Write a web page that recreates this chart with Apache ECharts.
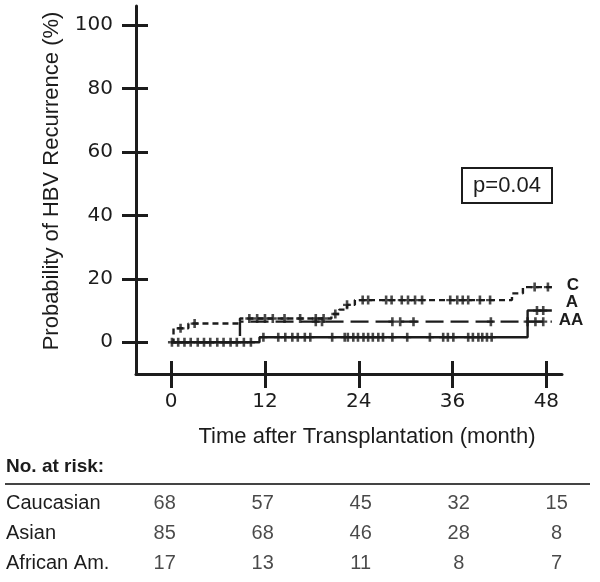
<!DOCTYPE html>
<html>
<head>
<meta charset="utf-8">
<script src="https://cdn.jsdelivr.net/npm/echarts@6/dist/echarts.min.js"></script>
<style>
  html, body { margin: 0; padding: 0; background: #fff; }
  #chart { width: 600px; height: 582px; }
</style>
</head>
<body>
<div id="chart"></div>
<script>
// step curves: [time (month), cumulative recurrence (%)]
const stepsC = [[0, 0], [0.3, 4.4], [2.2, 5.9], [8.8, 7.5], [20.5, 8.9], [21.5, 10.3], [22.5, 11.8], [23.5, 13.3], [43.6, 15.4], [45, 17.4], [48.7, 17.4]];
const stepsA = [[0, 0], [11.3, 1.6], [45.6, 10], [48.7, 10]];
const stepsAA = [[0, 0], [8.8, 6.5], [48.7, 6.5]];

// censored observations (month)
const censorC = [1.2, 3, 10, 11, 12, 13, 14.5, 16.5, 18.5, 19.5, 21, 22.5, 24.5, 25.2, 27.5, 28.2, 29.5, 30.3, 31.2, 32.1, 35.7, 36.6, 37.3, 38, 39.5, 40.8, 46.5, 48.2];
const censorA = [0.1, 0.9, 1.7, 2.5, 3.4, 4.2, 5, 5.9, 6.7, 7.6, 8.4, 9.3, 10.2, 11.8, 13.7, 14.6, 15.5, 16.2, 17.1, 17.8, 20.6, 22.2, 22.6, 23.3, 23.9, 24.6, 25.2, 25.8, 26.5, 27.1, 28.3, 30.2, 33.1, 34.8, 35.4, 36.1, 38, 38.6, 39.3, 39.8, 40.4, 41, 46.8, 47.6];
const censorAA = [18.5, 19.3, 28.3, 29.3, 31, 40.9, 45.6, 46.6, 47.6];

const xTicks = [0, 12, 24, 36, 48];
const yTicks = [0, 20, 40, 60, 80, 100];

// number at risk table
const riskGroups = ['Caucasian', 'Asian', 'African Am.'];
const riskTimes = [0, 12, 24, 36, 48];
const riskCaucasian = [68, 57, 45, 32, 15];
const riskAsian = [85, 68, 46, 28, 8];
const riskAfrican = [17, 13, 11, 8, 7];

const ink = '#1c1c1c';
const sansFont = '"Liberation Sans", Arial, sans-serif';
const tickFont = '"DejaVu Sans", sans-serif';

const levelAt = (steps, t) => {
  let v = steps[0][1];
  steps.forEach(p => { if (p[0] <= t) v = p[1]; });
  return v;
};

const plusMark = 'path://M-1.3,-5 L1.3,-5 L1.3,-1.3 L4,-1.3 L4,1.3 L1.3,1.3 L1.3,5 L-1.3,5 L-1.3,1.3 L-4,1.3 L-4,-1.3 L-1.3,-1.3 Z';

const curve = (name, steps, dash) => ({
  name,
  type: 'line',
  step: 'end',
  data: steps,
  showSymbol: false,
  symbol: 'none',
  lineStyle: { color: ink, width: 2.4, type: dash },
  silent: true,
  z: 3
});

const censors = (name, steps, times) => ({
  name: name + ' censored',
  type: 'scatter',
  data: times.map(t => [t, levelAt(steps, t)]),
  symbol: plusMark,
  symbolSize: [8, 9],
  itemStyle: { color: ink },
  silent: true,
  z: 4
});

const riskSeries = (vals, row) => ({
  type: 'scatter',
  xAxisIndex: 2,
  yAxisIndex: 2,
  data: riskTimes.map((t, i) => [t, row, vals[i]]),
  symbolSize: 1,
  itemStyle: { color: 'rgba(0,0,0,0)' },
  label: {
    show: true,
    position: 'inside',
    formatter: p => p.data[2],
    fontFamily: sansFont,
    fontSize: 20,
    color: ink
  },
  silent: true
});

const chart = echarts.init(document.getElementById('chart'));

const option = {
  backgroundColor: '#fff',
  animation: false,
  grid: [
    { left: 136, top: 6, width: 426, height: 368 },
    { left: 128, top: 488, width: 445, height: 91 }
  ],
  xAxis: [
    {
      gridIndex: 0, type: 'value', min: -4.5, max: 50, position: 'bottom',
      axisLine: { onZero: false, lineStyle: { color: ink, width: 3 } },
      axisTick: { customValues: xTicks, length: 14, lineStyle: { color: ink, width: 3 } },
      axisLabel: { customValues: xTicks, margin: 18, fontFamily: tickFont, fontSize: 20, color: ink },
      splitLine: { show: false }
    },
    {
      gridIndex: 0, type: 'value', min: -4.5, max: 50, position: 'bottom',
      axisLine: { show: false, onZero: false },
      axisTick: { customValues: xTicks, inside: true, length: 13, lineStyle: { color: ink, width: 3 } },
      axisLabel: { show: false },
      splitLine: { show: false }
    },
    {
      gridIndex: 1, type: 'value', min: -4.5, max: 50, show: false
    }
  ],
  yAxis: [
    {
      gridIndex: 0, type: 'value', min: -10, max: 106, position: 'left',
      axisLine: { show: true, onZero: false, lineStyle: { color: ink, width: 3 } },
      axisTick: { show: true, customValues: yTicks, length: 14, lineStyle: { color: ink, width: 3 } },
      axisLabel: { customValues: yTicks, margin: 23, fontFamily: tickFont, fontSize: 20, color: ink },
      splitLine: { show: false }
    },
    {
      gridIndex: 0, type: 'value', min: -10, max: 106, position: 'left',
      axisLine: { show: false, onZero: false },
      axisTick: { show: true, customValues: yTicks, inside: true, length: 12, lineStyle: { color: ink, width: 3 } },
      axisLabel: { show: false },
      splitLine: { show: false }
    },
    {
      gridIndex: 1, type: 'category', data: riskGroups, inverse: true,
      axisLine: { show: false }, axisTick: { show: false }, splitLine: { show: false },
      axisLabel: { align: 'left', margin: 122, fontFamily: sansFont, fontSize: 20, color: ink }
    }
  ],
  graphic: [
    {
      type: 'text', x: 52, y: 181, rotation: Math.PI / 2,
      style: { text: 'Probability of HBV Recurrence (%)', fontFamily: sansFont, fontSize: 22, fill: ink, align: 'center', verticalAlign: 'middle' }
    },
    {
      type: 'text', x: 367, y: 437,
      style: { text: 'Time after Transplantation (month)', fontFamily: sansFont, fontSize: 22, fill: ink, align: 'center', verticalAlign: 'middle' }
    },
    { type: 'rect', shape: { x: 462, y: 168, width: 90, height: 35 }, style: { fill: '#fff', stroke: ink, lineWidth: 2 } },
    { type: 'text', x: 507, y: 186, style: { text: 'p=0.04', fontFamily: sansFont, fontSize: 22, fill: ink, align: 'center', verticalAlign: 'middle' } },
    { type: 'text', x: 573, y: 285, style: { text: 'C', fontFamily: sansFont, fontSize: 17, fontWeight: 'bold', fill: ink, align: 'center', verticalAlign: 'middle' } },
    { type: 'text', x: 572, y: 302, style: { text: 'A', fontFamily: sansFont, fontSize: 17, fontWeight: 'bold', fill: ink, align: 'center', verticalAlign: 'middle' } },
    { type: 'text', x: 571, y: 320, style: { text: 'AA', fontFamily: sansFont, fontSize: 17, fontWeight: 'bold', fill: ink, align: 'center', verticalAlign: 'middle' } },
    { type: 'text', x: 6, y: 467, style: { text: 'No. at risk:', fontFamily: sansFont, fontSize: 19, fontWeight: 'bold', fill: ink, verticalAlign: 'middle' } },
    { type: 'line', shape: { x1: 5, y1: 484, x2: 590, y2: 484 }, style: { stroke: '#444', lineWidth: 2 } }
  ],
  series: [
    curve('C', stepsC, [6, 4]),
    curve('A', stepsA, 'solid'),
    curve('AA', stepsAA, [18, 7]),
    censors('C', stepsC, censorC),
    censors('A', stepsA, censorA),
    censors('AA', stepsAA, censorAA),
    riskSeries(riskCaucasian, 0),
    riskSeries(riskAsian, 1),
    riskSeries(riskAfrican, 2)
  ]
};

chart.setOption(option);
</script>
</body>
</html>
